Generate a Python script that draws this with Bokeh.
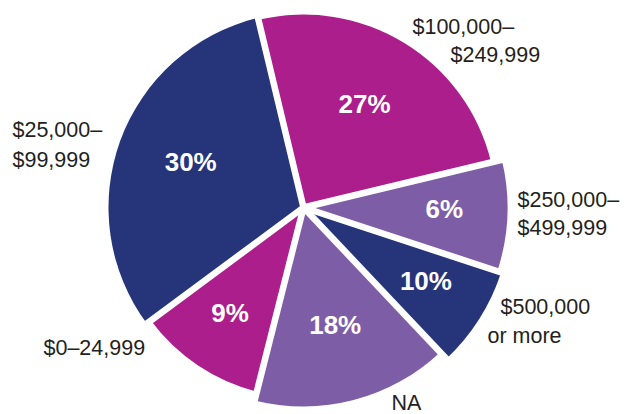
import math
from bokeh.plotting import figure
from bokeh.models import ColumnDataSource
from bokeh.core.properties import value
from bokeh.embed import file_html
from bokeh.resources import INLINE

# ---- data ----
categories = ["$100,000–$249,999", "$250,000–$499,999", "$500,000 or more",
              "NA", "$0–24,999", "$25,000–$99,999"]
pct_labels = ["27%", "6%", "10%", "18%", "9%", "30%"]
# slice sizes as drawn in the reference (percent of the circle)
slice_share = [25.0, 8.8, 7.9, 16.0, 10.9, 31.4]

# category label lines (text) for each slice
label_lines = [["$100,000–", "$249,999"], ["$250,000–", "$499,999"],
               ["$500,000", "or more"], ["NA"], ["$0–24,999"],
               ["$25,000–", "$99,999"]]

# ---- styles / layout ----
W, H = 626, 414
cx, cy = 303, 207
start_deg = 103.5
colors = ["#ab1e8b", "#7e5da7", "#26357a", "#7e5da7", "#ab1e8b", "#26357a"]
radii = [193, 204, 208, 199, 190, 195]
label_dist = [117, 141, 145, 126, 132, 120]
pct_dy = 4
# anchor (left, baseline) of each category label line
label_pos = [[(412, 388), (450, 360)], [(517, 215), (517, 187)],
             [(500, 108), (487, 79)], [(391, 12)], [(43, 67)],
             [(12, 285), (12, 255)]]

p = figure(width=W, height=H, x_range=(0, W), y_range=(0, H),
           output_backend="svg", toolbar_location=None, min_border=0)
p.axis.visible = False
p.grid.visible = False
p.outline_line_color = None
p.background_fill_color = "white"
p.border_fill_color = "white"

# wedges (clockwise from start)
starts, ends, mids = [], [], []
a = math.radians(start_deg)
total = sum(slice_share)
for s in slice_share:
    span = 2 * math.pi * s / total
    starts.append(a)
    ends.append(a - span)
    mids.append(a - span / 2)
    a -= span

src = ColumnDataSource(dict(x=[cx] * 6, y=[cy] * 6, r=radii, start=starts,
                            end=ends, color=colors))
p.wedge(x="x", y="y", radius="r", start_angle="start", end_angle="end",
        direction="clock", fill_color="color", line_color=None, source=src)

# white separators
p.ray(x=[cx] * 6, y=[cy] * 6, length=230, angle=starts,
      line_color="white", line_width=6.5)

# percent labels
lx = [cx + d * math.cos(m) for d, m in zip(label_dist, mids)]
ly = [cy + d * math.sin(m) + pct_dy for d, m in zip(label_dist, mids)]
p.text(x=lx, y=ly, text=pct_labels, text_color="white",
       text_font=value("Liberation Sans"), text_font_style="bold",
       text_font_size="26px", text_align="center", text_baseline="middle")

# category labels
tx, ty, tt = [], [], []
for lines, pos in zip(label_lines, label_pos):
    for t, (x, y) in zip(lines, pos):
        tx.append(x)
        ty.append(y)
        tt.append(t)
p.text(x=tx, y=ty, text=tt, text_color="#231f20",
       text_font=value("Liberation Sans"), text_font_size="21.5px",
       text_align="left", text_baseline="alphabetic")

open("out.html", "w").write(file_html(p, INLINE))
